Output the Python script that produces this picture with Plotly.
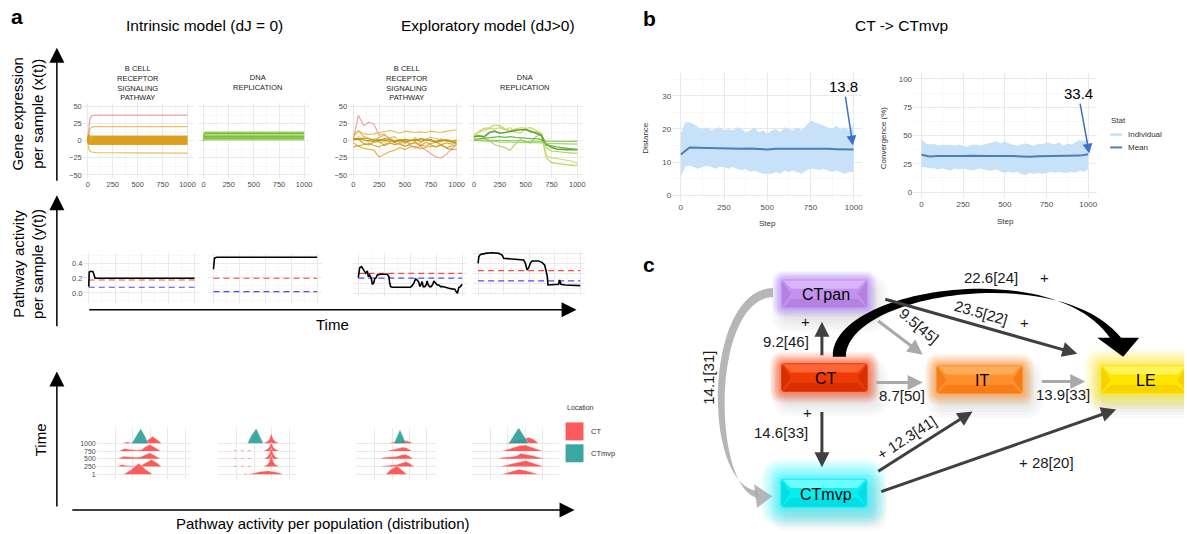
import plotly.graph_objects as go

W, H = 1187, 534
FONT = "Liberation Sans, Arial, Helvetica, sans-serif"

# ============================================================
# DATA
# ============================================================
STEP_TICKS = [0, 250, 500, 750, 1000]
STEP_MINOR = [125, 375, 625, 875]
EXPR_TICKS = [-50, -25, 0, 25, 50]
EXPR_MINOR = [-37.5, -12.5, 12.5, 37.5]
ACT_TICKS = [0.0, 0.2, 0.4]
ACT_MINOR = [-0.1, 0.1, 0.3, 0.5]
TIME_LABELS = ["1", "250", "500", "750", "1000"]
FACET_TITLES = ["B CELL<br>RECEPTOR<br>SIGNALING<br>PATHWAY", "DNA<br>REPLICATION"]
MODEL_TITLES = ["Intrinsic model (dJ = 0)", "Exploratory model (dJ>0)"]

# --- a, top: gene expression per sample x(t) ---
INTR_B_T = [0, 8, 20, 40, 80, 1000]
INTR_B_PINK = [0, 20, 32, 36.5, 37.5, 37.5]
INTR_B_OUTER = [
    [0, 10, 17, 20, 20.5, 20.5],
    [0, -10, -15, -16.5, -17.5, -18],
]
INTR_B_BAND = [
    [0, 9, 7, 6.5, 6.5, 6.5],
    [0, 7, 5.5, 5, 5, 5],
    [0, 5, 4, 3.5, 3.5, 3.5],
    [0, 3, 2.5, 2, 2, 2],
    [0, 1, 0.5, 0.5, 0.5, 0.5],
    [0, -1, -1, -1, -1, -1],
    [0, -2, -2.5, -2.5, -2.5, -2.5],
    [0, -3, -4, -4, -4, -4],
    [0, -4, -5, -5, -5, -5],
]
INTR_DNA_T = [0, 5, 15, 1000]
INTR_DNA = [
    [0, 10, 12.5, 12.5],
    [0, 9, 10.5, 10.5],
    [0, 7, 8.5, 8.5],
    [0, 5, 6.5, 6.5],
    [0, 4, 5, 5],
    [0, 2, 3, 3],
    [0, 1, 1.5, 1.5],
]
EXPL_T = [0, 50, 100, 150, 200, 250, 300, 350, 400, 450, 500,
          550, 600, 650, 700, 750, 800, 850, 900, 950, 1000]
EXPL_B_PINK = [2, 37, 22, 27, 24, 8, 10, 2, -3, -6, -8, -6, -11, -8, -13, -18, -24, -25, -20, -12, -6]
EXPL_B_GOLD = [
    [5, 15, 10, 9, 10, 12, 14, 15, 13, 11, 14, 13, 12, 13, 12, 14, 13, 12, 14, 15, 16],
    [-3, -8, -11, -12, -14, -24, -20, -16, -14, -10, -13, -9, -8, -12, -10, -8, -9, -7, -10, -8, -6],
    [0, 6, 2, -2, 3, 1, -2, 4, 0, -3, 2, -1, 5, -4, 2, 0, -2, 3, -1, 0, -1],
    [4, 2, -4, -6, -2, -1, -7, -4, -3, 2, 0, -5, -3, -8, -2, -6, -9, -5, -11, -13, -12],
    [9, 14, 6, 3, 1, 5, 8, 4, 6, -2, -4, 1, -1, 3, 2, 5, 3, 1, 2, 0, 1],
    [-9, -7, -5, -4, -7, -9, -5, -3, -6, -4, -8, -5, -2, -6, -8, -4, -2, -6, -3, -5, -4],
    [1, 3, 1, 0, -1, 2, 1, -1, 0, 1, -2, 0, 2, -1, 1, 0, -1, 1, 0, -1, 0],
    [3, 2, 4, 2, 1, 0, 3, 2, -1, 0, 2, 1, 0, 3, 1, 2, -2, -1, 1, -2, -3],
]
EXPL_DNA = [
    [4, 14, 18, 19, 23, 22, 17, 14, 17, 19, 18, 12, 13, 10, -25, -32, -33, -34, -36, -36, -36],
    [9, 13, 15, 18, 17, 19, 16, 19, 12, 11, 18, 19, 15, 11, -22, -25, -26, -27, -28, -30, -33],
    [6, 8, 4, 0, -6, -8, -10, -14, -5, 2, -2, -3, 6, 9, -10, -15, -16, -17, -17, -18, -18],
    [6, 7, 6, 12, 14, 11, 12, 14, 15, 16, 16, 14, 11, 8, -5, -10, -12, -13, -13, -13, -13],
    [1, 1, 1, 0.5, 0.5, 0.5, 0, 0, 0, 0, -0.5, -0.5, -0.5, -1, -1, -1, -1, -1, -1, -1, -1],
    [2, 3, 4, 5, 6, 6, 5, 6, 5, 4, 4, 3, 3, 2, -6, -8, -9, -10, -11, -12, -13],
    [0, 0, -1, -1, -1, -2, -2, -2, -2, -3, -3, -3, -3, -3, -4, -4, -4, -4, -4, -5, -5],
]

# --- a, middle: pathway activity per sample y(t) (black) and CT / CTmvp means (dashed) ---
ACT_INTR_B_T = [0, 4, 18, 40, 50, 60, 1000]
ACT_INTR_B = [0.084, 0.28, 0.29, 0.285, 0.24, 0.196, 0.196]
ACT_INTR_B_REF = [0.173, 0.076]
ACT_INTR_DNA_T = [0, 4, 10, 30, 1000]
ACT_INTR_DNA = [0.316, 0.44, 0.465, 0.476, 0.476]
ACT_INTR_DNA_REF = [0.196, 0.018]
ACT_EXPL_B_T = [0, 13, 32, 45, 58, 71, 87, 96, 109, 125, 135, 147, 160, 173, 183, 215, 279, 295, 301, 311,
                327, 375, 439, 503, 519, 535, 551, 567, 583, 593, 606, 615, 625, 641, 654, 663, 673, 686, 702, 718,
                728, 744, 760, 776, 792, 814, 840, 872, 904, 929, 942, 955, 968, 984, 1000]
ACT_EXPL_B = [0.191, 0.324, 0.338, 0.307, 0.28, 0.249, 0.28, 0.204, 0.227, 0.182,
              0.102, 0.116, 0.182, 0.191, 0.227, 0.236, 0.236, 0.204, 0.129, 0.071,
              0.062, 0.062, 0.058, 0.062, 0.084, 0.116, 0.173, 0.16, 0.129, 0.071,
              0.102, 0.138, 0.071, 0.071, 0.093, 0.147, 0.093, 0.071, 0.071, 0.102,
              0.147, 0.116, 0.093, 0.093, 0.071, 0.071, 0.058, 0.049, 0.04, 0.036,
              0.004, -0.018, 0.058, 0.071, 0.102]
ACT_EXPL_B_REF = [0.249, 0.183]
ACT_EXPL_DNA_T = [0, 7, 23, 72, 137, 202, 235, 251, 332, 414, 446, 463, 479, 495, 511, 528, 593, 625, 651, 664,
                  678, 684, 723, 788, 798, 811, 853, 919, 1000]
ACT_EXPL_DNA = [0.382, 0.471, 0.502, 0.516, 0.524, 0.516, 0.493, 0.449, 0.44, 0.436, 0.427, 0.382, 0.293,
                0.324, 0.382, 0.413, 0.413, 0.396, 0.36, 0.293, 0.204, 0.093, 0.093, 0.102, 0.16, 0.102,
                0.093, 0.093, 0.084]
ACT_EXPL_DNA_REF = [0.284, 0.147]

# --- a, bottom: activity distribution per population (ridgelines), rows = time 1..1000 ---
RIDGE_CT_X = [
    [[27, 35, 42, 49, 56],
     [21, 25, 30, 38, 44, 50, 55, 60, 65],
     [21, 27, 33, 39, 44, 49, 53, 58, 64],
     [22, 28, 34, 40, 45, 49, 53, 58, 64],
     [26, 30, 35, 41, 47, 52, 56, 61, 65]],
    [[25, 27, 29, 33, 37, 41, 45, 49, 53, 57, 61, 65],
     [15, 17, 19, 22, 24, 26, 29, 31, 33, 45, 49, 51, 53, 55, 57, 61],
     [15, 17, 19, 22, 24, 26, 29, 31, 33, 45, 49, 51, 53, 55, 57, 61],
     [15, 17, 19, 22, 24, 26, 29, 31, 33, 45, 49, 51, 53, 55, 57, 61],
     [45, 49, 51, 53, 55, 57, 61]],
    [[30, 35, 41, 46, 51],
     [23, 29, 35, 41, 46, 50, 54, 58],
     [23, 29, 35, 41, 46, 49, 53, 57],
     [30, 35, 39, 43, 47, 51, 56],
     [33, 37, 41, 45, 49, 53, 57]],
    [[30, 37, 43, 47, 53, 60, 67],
     [28, 34, 41, 47, 54, 60, 67, 72],
     [25, 32, 39, 45, 49, 55, 62, 69, 74],
     [30, 36, 42, 48, 54, 60, 67, 71],
     [34, 40, 46, 52, 57, 62, 67]],
]
RIDGE_CT_D = [
    [[0, 5, 11, 5, 0],
     [0, 2, 1, 0.5, 1, 4, 7, 4, 0],
     [0, 2.5, 2, 1.5, 2, 4.5, 6, 3.5, 0],
     [0, 2.5, 1.5, 1, 1.5, 4.5, 6.5, 4, 0],
     [0, 1.5, 0.5, 0.5, 1, 4, 7, 3.5, 0]],
    [[0, 1, 0, 0.5, 1.5, 2.5, 3, 3.5, 3, 2.5, 1.5, 0],
     [0, 1, 0, 0, 1, 0, 0, 1, 0, 0, 2, 5, 12, 5, 2, 0],
     [0, 1, 0, 0, 1, 0, 0, 1, 0, 0, 2, 5, 11, 5, 2, 0],
     [0, 1, 0, 0, 1, 0, 0, 1, 0, 0, 2, 4, 9, 4, 2, 0],
     [0, 2, 4, 10, 4, 2, 0]],
    [[0, 5, 8.5, 4, 0],
     [0, 1, 1.5, 2, 4, 5, 3, 0],
     [0, 1.5, 2, 2.5, 4, 4.5, 3, 0],
     [0, 1.5, 2, 3, 4, 3, 0],
     [0, 1.5, 2.5, 3, 3, 2, 0]],
    [[0, 2, 4, 5, 4, 2, 0],
     [0, 1.5, 2.5, 4, 6, 4, 2, 0],
     [0, 1.5, 2, 3, 5.5, 4.5, 3, 1, 0],
     [0, 2, 3.5, 5.5, 6, 4, 2, 0],
     [0, 2, 3, 5, 6, 4, 0]],
]
RIDGE_MVP_X = [[35, 40, 44, 48, 52], [29, 33, 38, 41, 45], [38, 41, 44, 47, 50], [37, 42, 47, 52, 57]]
RIDGE_MVP_D = [[0, 8, 15, 8, 0], [0, 8, 15, 8, 0], [0, 7, 14, 7, 0], [0, 8, 16, 8, 0]]
LOCATIONS = ["CT", "CTmvp"]

# --- b: CT -> CTmvp ---
B_STEP = [0, 25, 50, 75, 100, 125, 150, 175, 200, 225, 250, 275, 300, 325, 350, 375, 400, 425, 450, 475, 500,
          525, 550, 575, 600, 625, 650, 675, 700, 725, 750, 775, 800, 825, 850, 875, 900, 925, 950, 975, 1000]
B_STEP_MEAN = [0, 50, 100, 150, 200, 250, 300, 350, 400, 450, 500,
               550, 600, 650, 700, 750, 800, 850, 900, 950, 1000]
DIST_UP = [18.5, 22, 22, 21.5, 20.5, 20, 20.5, 19.5, 20, 20.5, 19.5, 20, 19.5, 20.5, 20, 19, 19.5, 20.5, 19, 19.5,
           18.5, 19.5, 20, 19, 20.5, 20, 19.5, 20.5, 19.5, 21, 22.5, 22, 21.5, 21, 20.5, 20, 21, 20, 20.5, 19.5, 21.5]
DIST_LO = [5.5, 8.5, 9, 8.5, 8, 8.5, 9, 8.5, 8, 8.5, 8.5, 8, 8.5, 8, 7.5, 8, 7, 7.5, 7, 6.5,
           6.5, 6.5, 7, 6.5, 7.5, 7, 7.5, 7, 6.5, 7.5, 8, 8, 7.5, 8, 7.5, 7, 7.5, 7, 6.5, 7, 7]
DIST_MEAN = [12.3, 14.4, 14.3, 14.2, 14.1, 14.0, 14.1, 14.0, 14.1, 13.9, 13.8,
             14.0, 14.0, 14.1, 14.2, 14.1, 14.0, 14.0, 13.9, 13.9, 13.8]
CONV_UP = [47, 43, 42, 43, 41, 42, 41.5, 42, 41, 42, 41, 40, 41.5, 42, 41, 42, 43, 44, 45, 43,
           45, 43, 42, 41, 42, 43, 42, 41, 43, 42, 44, 43, 42, 44, 41, 43, 42, 44, 46, 45, 47]
CONV_LO = [22, 22, 21, 21, 20, 21, 20, 19, 21, 20, 21, 20, 19, 20, 21, 20, 19, 19, 20, 18,
           17, 18, 17, 18, 16, 15, 17, 16, 17, 16, 17, 18, 17, 18, 17, 17, 18, 17, 19, 18, 20]
CONV_MEAN = [33, 31.5, 31.8, 31.6, 32, 31.8, 32, 31.6, 31.8, 31.9, 32,
             31.8, 31.5, 31.2, 31.6, 31.8, 31.7, 31.9, 31.8, 32.2, 33.4]
DIST_TICKS = [0, 10, 20, 30]
CONV_TICKS = [0, 25, 50, 75, 100]
DIST_LAST = "13.8"
CONV_LAST = "33.4"
STAT_NAMES = ["Individual", "Mean"]

# --- c: transition graph ---
NODES = ["CTpan", "CT", "IT", "LE", "CTmvp"]
EDGE_SRC = ["CT", "CT", "CT", "IT", "CTpan", "CTpan", "CTmvp", "CTmvp", "CT", "CTpan"]
EDGE_DST = ["CTpan", "CTmvp", "IT", "LE", "IT", "LE", "IT", "LE", "LE", "CTmvp"]
EDGE_LABEL = ["9.2[46]", "14.6[33]", "8.7[50]", "13.9[33]", "9.5[45]", "23.5[22]",
              "12.3[41]", "28[20]", "22.6[24]", "14.1[31]"]
EDGE_PLUS = [True, True, False, False, False, True, True, True, True, False]

# ============================================================
# STYLE / LAYOUT
# ============================================================
GRID = "#e9e9e9"
MINOR = "#f4f4f4"
TICKC = "#4d4d4d"
PINK = "#f3a2a2"
GOLD_L = "#e6c25e"
GOLD_BAND = "#d99a14"
GOLD_SET = ["#e0b84a", "#d9a520", "#e6c46a", "#c99a10", "#ddb040", "#d4a017", "#c08f00", "#b8900a"]
DNA_INTR = ["#9fd062", "#78bc34", "#a9d872", "#6cb02a", "#8ec94c", "#7fc23e", "#a6d66c"]
DNA_EXPL = ["#bccd48", "#c6d65c", "#a8cf5c", "#4d9c22", "#86c84a", "#62ad30", "#9ad062"]
RED = "#fb5b5b"
TEAL = "rgba(40,160,152,0.9)"
BAND = "#c7e1f8"
MEANC = "#4b7fb3"
DARK = "#404040"
LIGHTG = "#a9a9a9"

fig = go.Figure()
layout = dict(width=W, height=H, margin=dict(l=0, r=0, t=0, b=0),
              paper_bgcolor="white", plot_bgcolor="white", showlegend=False,
              font=dict(family=FONT, color="black"))


def akey(letter, i):
    return f"{letter}axis" if i == 1 else f"{letter}axis{i}"


def set_axes(i, xpx, ypx, xr, yr, xopt=None, yopt=None, xlab=False, ylab=False, fs=7.5):
    base = dict(showgrid=True, gridcolor=GRID, gridwidth=1, zeroline=False, showline=False,
                ticks="", fixedrange=True, tickfont=dict(family=FONT, size=fs, color=TICKC))
    xa = dict(base, domain=[xpx[0] / W, xpx[1] / W], range=xr, anchor=f"y{i}", showticklabels=xlab)
    ya = dict(base, domain=[1 - ypx[1] / H, 1 - ypx[0] / H], range=yr, anchor=f"x{i}", showticklabels=ylab)
    if xopt:
        xa.update(xopt)
    if yopt:
        ya.update(yopt)
    layout[akey("x", i)] = xa
    layout[akey("y", i)] = ya


def add_line(i, x, y, color, width=1.1, dash=None, opacity=1.0):
    fig.add_trace(go.Scatter(x=x, y=y, mode="lines", line=dict(color=color, width=width, dash=dash),
                             opacity=opacity, xaxis=f"x{i}", yaxis=f"y{i}",
                             hoverinfo="skip", showlegend=False))


# overlay axis in pixel units for decorations / diagram
layout["xaxis"] = dict(domain=[0, 1], range=[0, W], visible=False, fixedrange=True)
layout["yaxis"] = dict(domain=[0, 1], range=[H, 0], visible=False, fixedrange=True)

step_x = dict(tickmode="array", tickvals=STEP_TICKS,
              minor=dict(tickmode="array", tickvals=STEP_MINOR, showgrid=True, gridcolor=MINOR, gridwidth=0.7))
expr_y = dict(tickmode="array", tickvals=EXPR_TICKS,
              minor=dict(tickmode="array", tickvals=EXPR_MINOR, showgrid=True, gridcolor=MINOR, gridwidth=0.7))

# ---- a, top row ----
TOP_X = [(83, 193), (199, 310), (349, 463), (470, 584)]
TOP_Y = (102.5, 178)
for k in range(4):
    set_axes(2 + k, TOP_X[k], TOP_Y, [-50, 1050], [-55, 55], step_x, expr_y,
             xlab=True, ylab=(k in (0, 2)), fs=7.5)

for ys in INTR_B_OUTER:
    add_line(2, INTR_B_T, ys, GOLD_L, 1.2)
add_line(2, INTR_B_T, INTR_B_PINK, PINK, 1.3)
for ys in INTR_B_BAND:
    add_line(2, INTR_B_T, ys, GOLD_BAND, 1.6, opacity=0.9)
for j, ys in enumerate(INTR_DNA):
    add_line(3, INTR_DNA_T, ys, DNA_INTR[j % len(DNA_INTR)], 1.4)
add_line(4, EXPL_T, EXPL_B_PINK, PINK, 1.2)
for j, ys in enumerate(EXPL_B_GOLD):
    add_line(4, EXPL_T, ys, GOLD_SET[j % len(GOLD_SET)], 1.1, opacity=0.9)
for j, ys in enumerate(EXPL_DNA):
    add_line(5, EXPL_T, ys, DNA_EXPL[j % len(DNA_EXPL)], 1.2 if j != 3 else 1.6, opacity=0.9)

# ---- a, middle row ----
act_y = dict(tickmode="array", tickvals=ACT_TICKS, tickformat=".1f",
             minor=dict(tickmode="array", tickvals=ACT_MINOR, showgrid=True, gridcolor=MINOR, gridwidth=0.7))
dense_y = dict(tickmode="linear", tick0=-0.02, dtick=0.1333,
               minor=dict(tickmode="linear", tick0=0.0467, dtick=0.1333, showgrid=True, gridcolor=MINOR, gridwidth=0.7))
MID = [((83.7, 200.3), (253, 303), [-0.133, 0.533], act_y, True),
       ((208.8, 323.2), (253, 303), [-0.133, 0.533], act_y, False),
       ((354, 468.5), (253, 297), [-0.067, 0.52], dense_y, False),
       ((474.2, 586.8), (250, 295), [-0.04, 0.56], dense_y, False)]
for k, (xp, yp, yr, yo, yl) in enumerate(MID):
    set_axes(6 + k, xp, yp, [-50, 1050], yr, step_x, yo, xlab=False, ylab=yl, fs=7.5)

ACT_SETS = [(ACT_INTR_B_T, ACT_INTR_B, ACT_INTR_B_REF),
            (ACT_INTR_DNA_T, ACT_INTR_DNA, ACT_INTR_DNA_REF),
            (ACT_EXPL_B_T, ACT_EXPL_B, ACT_EXPL_B_REF),
            (ACT_EXPL_DNA_T, ACT_EXPL_DNA, ACT_EXPL_DNA_REF)]
for k, (tt, yy, ref) in enumerate(ACT_SETS):
    add_line(6 + k, [0, 1000], [ref[0], ref[0]], "#ff4444", 1.2, dash="6px,4px")
    add_line(6 + k, [0, 1000], [ref[1], ref[1]], "#4b4bff", 1.2, dash="6px,4px")
    add_line(6 + k, tt, yy, "black", 1.6)

# ---- a, bottom row (ridgelines) ----
ROW_GAP = 7.75
ROWS = [r * ROW_GAP for r in range(5)]
RID_X = [(97, 190), (219, 298), (357, 437), (473, 560)]
for k in range(4):
    w = RID_X[k][1] - RID_X[k][0]
    set_axes(10 + k, RID_X[k], (429, 480), [0, w], [-5, 46],
             dict(tickmode="linear", tick0=1, dtick=17.5),
             dict(tickmode="array", tickvals=ROWS, ticktext=TIME_LABELS),
             xlab=False, ylab=(k == 0), fs=7)
    for r in range(4, -1, -1):
        xs = RIDGE_CT_X[k][r]
        ys = [ROWS[r] + d for d in RIDGE_CT_D[k][r]]
        fig.add_trace(go.Scatter(x=xs, y=ys, mode="lines", fill="toself", fillcolor=RED,
                                 line=dict(color="rgba(255,255,255,0.8)", width=0.5),
                                 xaxis=f"x{10 + k}", yaxis=f"y{10 + k}", hoverinfo="skip", showlegend=False))
        if r == 4:
            ys2 = [ROWS[r] + d for d in RIDGE_MVP_D[k]]
            fig.add_trace(go.Scatter(x=RIDGE_MVP_X[k], y=ys2, mode="lines", fill="toself", fillcolor=TEAL,
                                     line=dict(color="rgba(255,255,255,0.8)", width=0.5),
                                     xaxis=f"x{10 + k}", yaxis=f"y{10 + k}", hoverinfo="skip", showlegend=False))

# ---- b ----
set_axes(14, (673.9, 864.5), (72.4, 201), [-50, 1050], [-1.8, 36.8], step_x,
         dict(tickmode="array", tickvals=DIST_TICKS,
              minor=dict(tickmode="array", tickvals=[5, 15, 25, 35], showgrid=True, gridcolor=MINOR, gridwidth=0.7)),
         xlab=True, ylab=True, fs=8)
set_axes(15, (915.4, 1099.3), (72.6, 197.4), [-50, 1050], [-5, 105], step_x,
         dict(tickmode="array", tickvals=CONV_TICKS,
              minor=dict(tickmode="array", tickvals=[12.5, 37.5, 62.5, 87.5], showgrid=True, gridcolor=MINOR, gridwidth=0.7)),
         xlab=True, ylab=True, fs=8)
for i, (lo, up, mn) in ((14, (DIST_LO, DIST_UP, DIST_MEAN)), (15, (CONV_LO, CONV_UP, CONV_MEAN))):
    fig.add_trace(go.Scatter(x=B_STEP, y=lo, mode="lines", line=dict(width=0, color=BAND),
                             xaxis=f"x{i}", yaxis=f"y{i}", hoverinfo="skip", showlegend=False))
    fig.add_trace(go.Scatter(x=B_STEP, y=up, mode="lines", line=dict(width=0, color=BAND), fill="tonexty",
                             fillcolor=BAND, xaxis=f"x{i}", yaxis=f"y{i}", hoverinfo="skip", showlegend=False))
    add_line(i, B_STEP_MEAN, mn, MEANC, 2.0)

# ---- annotations & shapes (pixel coordinates on overlay axis) ----
ann = []
shapes = []


def text(x, y, s, size, color="black", angle=0, xanchor="center", yanchor="middle", bold=False):
    ann.append(dict(x=x, y=y, xref="x", yref="y", text=(f"<b>{s}</b>" if bold else s), showarrow=False,
                    font=dict(family=FONT, size=size, color=color), textangle=angle,
                    xanchor=xanchor, yanchor=yanchor))


def arrow(tail, head, color, width, size=1.0, style=2, label="", fs=15, fcolor="black"):
    ann.append(dict(x=head[0], y=head[1], ax=tail[0], ay=tail[1], xref="x", yref="y", axref="x", ayref="y",
                    text=label, showarrow=True, arrowhead=style, arrowsize=size, arrowwidth=width,
                    arrowcolor=color, standoff=0, startstandoff=0,
                    font=dict(family=FONT, size=fs, color=fcolor)))


def path(d, fill, opacity=1.0, line_color=None, line_width=0):
    shapes.append(dict(type="path", path=d, xref="x", yref="y", fillcolor=fill, opacity=opacity,
                       line=dict(color=line_color or "rgba(0,0,0,0)", width=line_width), layer="above"))


def rrect(x0, y0, x1, y1, r):
    return (f"M {x0 + r},{y0} L {x1 - r},{y0} Q {x1},{y0} {x1},{y0 + r} L {x1},{y1 - r} "
            f"Q {x1},{y1} {x1 - r},{y1} L {x0 + r},{y1} Q {x0},{y1} {x0},{y1 - r} "
            f"L {x0},{y0 + r} Q {x0},{y0} {x0 + r},{y0} Z")


# panel letters and titles
text(17, 16, "a", 21, bold=True)
text(651, 18, "b", 21, bold=True)
text(651, 264, "c", 21, bold=True)
text(205, 25, MODEL_TITLES[0], 15.5)
text(489, 25, MODEL_TITLES[1], 15.5)
text(904, 25, "CT -> CTmvp", 15.5)
FACET_CX = [138, 258, 408, 526]
for k in range(4):
    text(FACET_CX[k], 82, FACET_TITLES[k % 2], 7.5, color="#1a1a1a")

# panel a axis arrows & labels
arrow((57, 182), (57, 47), "black", 1.5, 2.0)
arrow((57, 328), (57, 195), "black", 1.5, 2.0)
arrow((88, 310), (578, 310), "black", 1.5, 2.0)
arrow((57, 509), (57, 372), "black", 1.5, 2.0)
arrow((71, 511), (576, 511), "black", 1.5, 2.0)
text(28, 113, "Gene expression<br>per sample (x(t))", 15, angle=-90)
text(28, 264, "Pathway activity<br>per sample (y(t))", 15, angle=-90)
text(333, 325, "Time", 15)
text(40, 440, "Time", 15, angle=-90)
text(323, 524, "Pathway activity per population (distribution)", 15)

# ridge legend
text(566, 408, "Location", 7, color="#333333", xanchor="left")
shapes.append(dict(type="rect", x0=567, x1=585, y0=423, y1=441, xref="x", yref="y",
                   fillcolor=RED, line=dict(width=0), layer="above"))
shapes.append(dict(type="rect", x0=567, x1=585, y0=445, y1=463, xref="x", yref="y",
                   fillcolor="#3aa8a0", line=dict(width=0), layer="above"))
text(590, 432, LOCATIONS[0], 7.5, color="#333333", xanchor="left")
text(590, 454, LOCATIONS[1], 7.5, color="#333333", xanchor="left")

# panel b labels, legend, callouts
text(647, 137, "Distance", 8, color="#333333", angle=-90)
text(769, 223, "Step", 8, color="#333333")
text(886, 137, "Convergence (%)", 8, color="#333333", angle=-90)
text(1008, 221, "Step", 8, color="#333333")
text(1112, 120, "Stat", 8, color="#333333", xanchor="left")
shapes.append(dict(type="line", x0=1113, x1=1125, y0=134, y1=134, xref="x", yref="y",
                   line=dict(color=BAND, width=2.5), layer="above"))
shapes.append(dict(type="line", x0=1113, x1=1125, y0=147, y1=147, xref="x", yref="y",
                   line=dict(color=MEANC, width=2), layer="above"))
text(1129, 134, STAT_NAMES[0], 8, color="#333333", xanchor="left")
text(1129, 147, STAT_NAMES[1], 8, color="#333333", xanchor="left")
arrow((846, 86), (855, 145), "#3c6fcf", 1.5, 1.3, label=DIST_LAST, fs=15)
arrow((1081, 93), (1092, 153), "#3c6fcf", 1.5, 1.3, label=CONV_LAST, fs=15)

# ---- panel c ----
NODE_CENTER = {"CTpan": (826.5, 294), "CT": (826.5, 378), "IT": (982, 380), "LE": (1147, 380), "CTmvp": (826, 494)}
NODE_W, NODE_H = 87, 29
NODE_STYLE = {  # base, light, dark, glow, glow scale
    "CTpan": ("#c391ee", "#dcbaf9", "#a878d8", "#b478ff", 0.55),
    "CT": ("#ee3a06", "#ff6d3d", "#c52800", "#ff3000", 0.7),
    "IT": ("#ff8f2c", "#ffb263", "#ef6f0c", "#ff8a20", 0.7),
    "LE": ("#ffe600", "#fff466", "#f2c200", "#ffe400", 1.0),
    "CTmvp": ("#08eef0", "#7dffff", "#00d2dc", "#00f0ff", 1.2),
}
GLOW_STEPS = [16, 14, 12, 10, 8.5, 7, 5.5, 4, 2.5, 1.2]

# shadows and glows
for n in NODES:
    cx, cy = NODE_CENTER[n]
    x0, x1, y0, y1 = cx - NODE_W / 2, cx + NODE_W / 2, cy - NODE_H / 2, cy + NODE_H / 2
    base, light, dark, glow, gs = NODE_STYLE[n]
    for e in (14, 11, 8, 5, 2):
        path(rrect(x0 + 5 - e, y0 + 10 - e, x1 + 6 + e, y1 + 10 + e, 4 + e), "#8a8a8a", 0.04)
    for e in GLOW_STEPS:
        ee = e * gs
        path(rrect(x0 - ee, y0 - ee, x1 + ee, y1 + ee, 3 + ee), glow, 0.075)

# curved arrows
path("M 775,288 C 705,290 703,486 760,492 L 760,499 C 714,490 712,300 775,297 Z", LIGHTG, 0.85)
path("M 774,497 L 756,485 L 759,509 Z", LIGHTG, 0.85)
path("M 835,357 C 833,288 1058,254 1114,340 L 1124,338 C 1064,262 850,292 848,357 Z", "black")
path("M 1100,338 L 1142,338 L 1126,357 Z", "black")

# boxes
for n in NODES:
    cx, cy = NODE_CENTER[n]
    x0, x1, y0, y1 = cx - NODE_W / 2, cx + NODE_W / 2, cy - NODE_H / 2, cy + NODE_H / 2
    base, light, dark, glow, gs = NODE_STYLE[n]
    b, t = 10, NODE_H * 0.32
    path(rrect(x0, y0, x1, y1, 3.5), base)
    path(f"M {x0 + 2},{y0 + 1} L {x1 - 2},{y0 + 1} L {x1 - b},{y0 + t} L {x0 + b},{y0 + t} Z", light, 0.85)
    path(f"M {x0 + 2},{y1 - 1} L {x1 - 2},{y1 - 1} L {x1 - b},{y1 - t} L {x0 + b},{y1 - t} Z", dark, 0.55)
    path(f"M {x0 + 1},{y0 + 2} L {x0 + b},{cy} L {x0 + 1},{y1 - 2} Z", dark, 0.6)
    path(f"M {x1 - 1},{y0 + 2} L {x1 - b},{cy} L {x1 - 1},{y1 - 2} Z", dark, 0.6)
    text(cx + 2, cy + 1, n, 16)

EDGE_GEOM = [
    dict(tail=(824, 357), head=(824, 322), color=DARK, lab=(788, 342), plus=(808, 322)),
    dict(tail=(824, 411), head=(824, 468), color=DARK, lab=(783, 433), plus=(810, 413)),
    dict(tail=(877, 383), head=(925, 383), color=LIGHTG, lab=(904, 396)),
    dict(tail=(1043, 382), head=(1088, 382), color=LIGHTG, lab=(1066, 395)),
    dict(tail=(879, 320), head=(925, 355), color=LIGHTG, lab=(921, 326), angle=40),
    dict(tail=(886, 299), head=(1080, 354), color=DARK, lab=(983, 313), angle=16, plus=(1027, 323)),
    dict(tail=(879, 473), head=(975, 412), color=DARK, lab=(909, 438), angle=-33, prefix=True),
    dict(tail=(882, 493), head=(1119, 410), color=DARK, lab=(1049, 463), prefix=True),
    dict(lab=(994, 278), plus=(1047, 278)),
    dict(lab=(710, 378), angle=-90),
]
for k in range(len(EDGE_LABEL)):
    g = EDGE_GEOM[k]
    if "tail" in g:
        arrow(g["tail"], g["head"], g["color"], 3, 1.0)
    s = EDGE_LABEL[k]
    if EDGE_PLUS[k] and g.get("prefix"):
        s = "+ " + s
    text(g["lab"][0], g["lab"][1], s, 15, color="#1a1a1a", angle=g.get("angle", 0))
    if EDGE_PLUS[k] and "plus" in g:
        text(g["plus"][0], g["plus"][1], "+", 15, color="#1a1a1a")

layout["annotations"] = ann
layout["shapes"] = shapes
fig.update_layout(**layout)
fig.write_html("out.html", config={"displayModeBar": False, "staticPlot": True},
               post_script="document.body.style.margin='0';")
